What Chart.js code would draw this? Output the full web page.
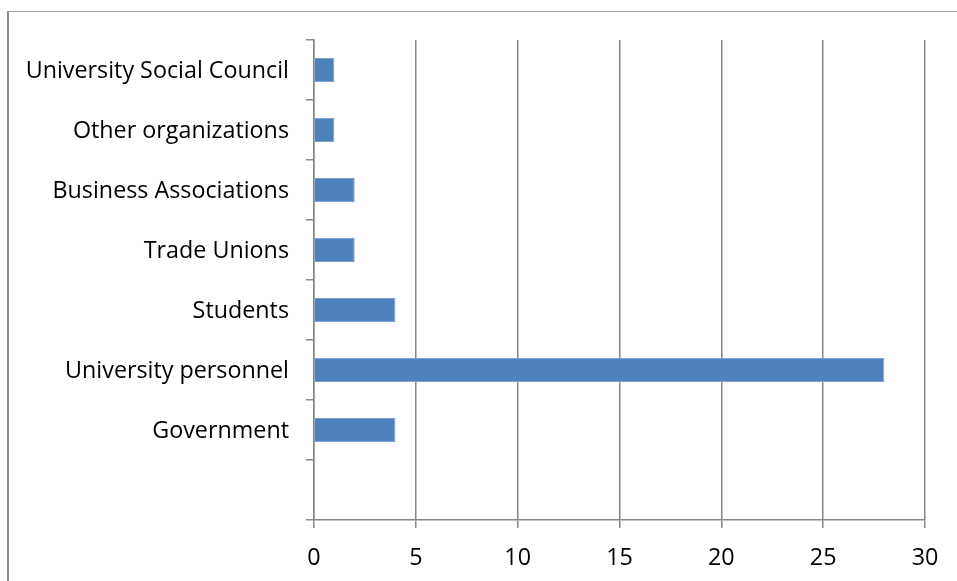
<!DOCTYPE html>
<html>
<head>
<meta charset="utf-8">
<script src="https://cdn.jsdelivr.net/npm/chart.js@4/dist/chart.umd.min.js"></script>
<style>
  html, body { margin: 0; padding: 0; background: #fff; }
  #wrap { position: relative; width: 957px; height: 581px; overflow: hidden; }
  #frame { position: absolute; left: 7px; top: 11px; width: 960px; height: 580px;
           border-left: 2px solid #8c8c8c; border-top: 1px solid #a0a0a0; box-sizing: border-box; }
  canvas { position: absolute; left: 0; top: 0; }
</style>
</head>
<body>
<div id="wrap">
  <div id="frame"></div>
  <canvas id="c" width="957" height="581"></canvas>
</div>
<script>
const categories = ["University Social Council", "Other organizations", "Business Associations",
                    "Trade Unions", "Students", "University personnel", "Government", ""];
const values = [1, 1, 2, 2, 4, 28, 4, null];
const xTicks = [0, 5, 10, 15, 20, 25, 30];

const FONT = { family: "'Open Sans', Lato, sans-serif", size: 23.3 };
const GRID = '#868686';

new Chart(document.getElementById('c'), {
  type: 'bar',
  data: {
    labels: categories,
    datasets: [{
      data: values,
      backgroundColor: '#4F81BD',
      borderColor: '#7EA1CF',
      borderWidth: 1,
      categoryPercentage: 0.8,
      barPercentage: 0.5
    }]
  },
  options: {
    indexAxis: 'y',
    responsive: false,
    animation: false,
    layout: { padding: { top: 40, right: 32, left: 0, bottom: 0 } },
    plugins: { legend: { display: false }, tooltip: { enabled: false } },
    scales: {
      y: {
        type: 'category',
        offset: true,
        grid: { offset: true, drawOnChartArea: false, drawTicks: true, tickLength: 8, color: GRID, lineWidth: 1.5 },
        border: { display: true, color: GRID, width: 1.5 },
        ticks: { color: '#000', font: FONT, padding: 17, autoSkip: false, labelOffset: 1.5 },
        afterFit: (s) => { s.width = 314; }
      },
      x: {
        min: 0, max: 30,
        afterBuildTicks: (s) => { s.ticks = xTicks.map(v => ({ value: v })); },
        grid: { color: GRID, tickLength: 8, lineWidth: 1.5 },
        border: { display: true, color: GRID, width: 1.5 },
        ticks: { color: '#000', font: FONT, padding: 16, maxRotation: 0 },
        afterFit: (s) => { s.height = 61; }
      }
    }
  }
});
</script>
</body>
</html>
